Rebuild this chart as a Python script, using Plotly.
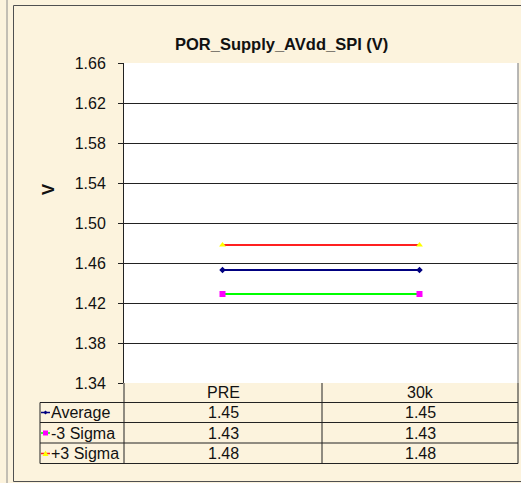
import plotly.graph_objects as go

# data
categories = ["PRE", "30k"]
series_names = ["Average", "-3 Sigma", "+3 Sigma"]
average = [1.453, 1.453]
minus_3_sigma = [1.429, 1.429]
plus_3_sigma = [1.478, 1.478]
y_ticks = [1.34, 1.38, 1.42, 1.46, 1.50, 1.54, 1.58, 1.62, 1.66]

W, H = 521, 483
L, R, T, B = 124, 3, 63, 100
PW, PH = W - L - R, H - T - B
FONT = "Arial, Liberation Sans, sans-serif"
BG = "#FCF3DD"
TXT = "#111111"


def fx(px):
    return (px - L) / PW


def fy(py):
    return (H - B - py) / PH


def text(x, y, s, size=16, xanchor="center", **kw):
    return dict(x=fx(x), y=fy(y), xref="paper", yref="paper", text=s,
                xanchor=xanchor, yanchor="middle", showarrow=False,
                font=dict(size=size, color=TXT, family=FONT), **kw)


styles = [
    dict(line="#000080", marker="#000080", symbol="diamond", size=5),
    dict(line="#00FF00", marker="#FF00FF", symbol="square", size=6),
    dict(line="#FF2020", marker="#FFFF00", symbol="triangle-up", size=6),
]
series = [average, minus_3_sigma, plus_3_sigma]

fig = go.Figure()
for name, vals, st in zip(series_names, series, styles):
    fig.add_trace(go.Scatter(
        x=categories, y=vals, name=name, mode="lines+markers",
        line=dict(color=st["line"], width=1.8),
        marker=dict(color=st["marker"], symbol=st["symbol"], size=st["size"]),
        showlegend=False,
    ))

shapes = []
ann = []

# outer frames
shapes.append(dict(type="line", xref="paper", yref="paper", x0=fx(7), x1=fx(7),
                   y0=fy(-2), y1=fy(H + 2), line=dict(color="#8a8a8a", width=1)))
shapes.append(dict(type="rect", xref="paper", yref="paper", x0=fx(13.5), x1=fx(530),
                   y0=fy(5.5), y1=fy(481.5), line=dict(color="#505050", width=1)))
# plot area border (right side gray)
shapes.append(dict(type="line", xref="paper", yref="paper", x0=1, x1=1, y0=0, y1=1,
                   line=dict(color="#a0a0a0", width=1.5)))

# data table grid
row_lines = [402.5, 422.5, 443, 463.5]
col_lines = [124, 322, 518]
for y in row_lines:
    shapes.append(dict(type="line", xref="paper", yref="paper", x0=fx(40), x1=fx(518),
                       y0=fy(y), y1=fy(y), line=dict(color="#222222", width=1)))
shapes.append(dict(type="line", xref="paper", yref="paper", x0=fx(40), x1=fx(40),
                   y0=fy(402.5), y1=fy(463.5), line=dict(color="#222222", width=1)))
for x in col_lines:
    shapes.append(dict(type="line", xref="paper", yref="paper", x0=fx(x), x1=fx(x),
                       y0=fy(383), y1=fy(463.5), line=dict(color="#222222", width=1)))

# header
col_centers = [(col_lines[i] + col_lines[i + 1]) / 2 for i in range(len(categories))]
for cat, cx in zip(categories, col_centers):
    ann.append(text(cx, 392.5, cat))

# rows
row_centers = [412.5, 433, 453.5]
for name, vals, st, ry in zip(series_names, series, styles, row_centers):
    ann.append(text(49, ry, name, xanchor="left"))
    for v, cx in zip(vals, col_centers):
        ann.append(text(cx, ry, f"{v:.2f}"))
    # legend key: short line + marker
    shapes.append(dict(type="line", xref="paper", yref="paper", x0=fx(41), x1=fx(50),
                       y0=fy(ry), y1=fy(ry), line=dict(color=st["line"], width=1.5)))
    mx, my, s = fx(45.5), fy(ry), 2.5
    if st["symbol"] == "square":
        path = f"M{mx - s / PW},{my - s / PH} L{mx + s / PW},{my - s / PH} L{mx + s / PW},{my + s / PH} L{mx - s / PW},{my + s / PH} Z"
    elif st["symbol"] == "diamond":
        path = f"M{mx - 2 / PW},{my} L{mx},{my + 2 / PH} L{mx + 2 / PW},{my} L{mx},{my - 2 / PH} Z"
    else:
        path = f"M{mx - 3 / PW},{my - 2.5 / PH} L{mx + 3 / PW},{my - 2.5 / PH} L{mx},{my + 3 / PH} Z"
    shapes.append(dict(type="path", xref="paper", yref="paper", path=path,
                       fillcolor=st["marker"], line=dict(width=0)))

# title and axis title
ann.append(text(281.5, 44, "<b>POR_Supply_AVdd_SPI (V)</b>", size=16.5))
ann.append(text(48, 190, "<b>V</b>", size=16.5, textangle=-90))

fig.update_layout(
    width=W, height=H,
    margin=dict(l=L, r=R, t=T, b=B, pad=0),
    paper_bgcolor=BG, plot_bgcolor="white",
    font=dict(family=FONT, size=16, color=TXT),
    shapes=shapes, annotations=ann,
    showlegend=False,
)
fig.update_xaxes(
    type="category", range=[-0.5, 1.5], showticklabels=False, ticks="",
    showgrid=False, zeroline=False, showline=False, fixedrange=True,
)
fig.update_yaxes(
    range=[1.34, 1.66], tickvals=y_ticks, tickformat=".2f",
    ticks="outside", ticklen=5, tickcolor="#222", tickwidth=1,
    showgrid=True, gridcolor="#222222", gridwidth=1,
    showline=True, linecolor="#222222", linewidth=1,
    zeroline=False, tickfont=dict(size=16, color=TXT, family=FONT),
    ticklabelstandoff=9,
)

fig.write_html("out.html", config={"displayModeBar": False},
               post_script="document.body.style.margin = '0';")
